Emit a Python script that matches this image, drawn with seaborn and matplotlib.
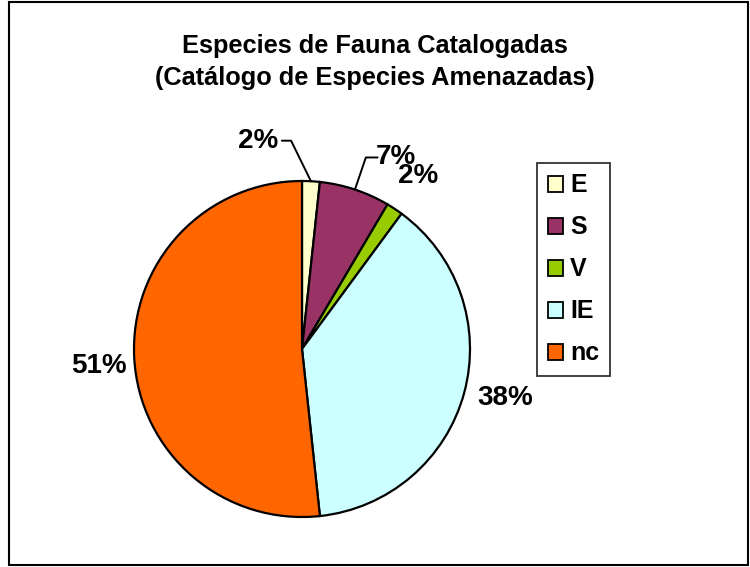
import numpy as np
import matplotlib
matplotlib.use("Agg")
import matplotlib.pyplot as plt
import seaborn as sns
from matplotlib.patches import Rectangle

# =======================================
# Data
# =======================================
CATEGORIES = ["E", "S", "V", "IE", "nc"]
VALUES = [1.7, 6.8, 1.6, 38.2, 51.7]
PCT_LABELS = ["2%", "7%", "2%", "38%", "51%"]
COLORS = ["#FFFFCC", "#993366", "#99CC00", "#CCFFFF", "#FF6600"]
TITLE = "Especies de Fauna Catalogadas\n(Catálogo de Especies Amenazadas)"

# label positions (pie radius = 1), and which labels get a leader line
LABEL_POS = [(-0.26, 1.24), (0.56, 1.14), (0.69, 1.03), (1.21, -0.29), (-1.21, -0.10)]
LEADER = [True, True, False, False, False]

sns.set_theme(style="white")
plt.rcParams["font.family"] = ["Liberation Sans", "DejaVu Sans"]
plt.rcParams["text.color"] = "black"

fig = plt.figure(figsize=(7.5, 5.67), dpi=100)

# figure frame
fig.patches.append(Rectangle((0.012, 0.003), 0.985, 0.993, transform=fig.transFigure,
                             fill=False, edgecolor="black", linewidth=1.5))

fig.text(0.5, 1 - 62 / 567, TITLE, ha="center", va="center",
         fontsize=18.3, fontweight="bold", linespacing=1.38)

# pie axes: centre (302, 349) px, radius 168 px
cx, cy, r = 302 / 750, 1 - 349 / 567, 168
ax = fig.add_axes([cx - r / 750, cy - r / 567, 2 * r / 750, 2 * r / 567])
palette = sns.color_palette(COLORS)
wedges, _ = ax.pie(VALUES, colors=palette, startangle=90, counterclock=False,
                   radius=1, wedgeprops=dict(edgecolor="black", linewidth=1.6))
ax.set_xlim(-1, 1)
ax.set_ylim(-1, 1)
ax.set_aspect("equal")
ax.axis("off")

for w, lab, (tx, ty), lead in zip(wedges, PCT_LABELS, LABEL_POS, LEADER):
    ax.text(tx, ty, lab, ha="center", va="center", fontsize=20, fontweight="bold",
            clip_on=False)
    if lead:
        mid = np.deg2rad((w.theta1 + w.theta2) / 2)
        ex, ey = np.cos(mid), np.sin(mid)
        # horizontal stub beside the text, then diagonal down to the wedge
        if tx < 0:
            x0 = tx + 0.14
            x1 = x0 + 0.055
        else:
            x0 = tx - 0.11
            x1 = x0 - 0.07
        ax.plot([x0, x1, ex], [ty, ty, ey], color="black", linewidth=1.4,
                clip_on=False)

leg = fig.legend(wedges, CATEGORIES, loc="upper left",
                 bbox_to_anchor=(537 / 750, 1 - 163 / 567), borderaxespad=0,
                 prop=dict(size=18, weight="bold"), handlelength=0.6, handleheight=0.6,
                 handletextpad=0.3, labelspacing=0.72, borderpad=0.42,
                 frameon=True, fancybox=False, shadow=False)
leg.get_frame().set_edgecolor("black")
leg.get_frame().set_linewidth(1.3)
for h in leg.legend_handles:
    h.set_edgecolor("black")
    h.set_linewidth(1.3)

fig.savefig("out.png", dpi=100)
